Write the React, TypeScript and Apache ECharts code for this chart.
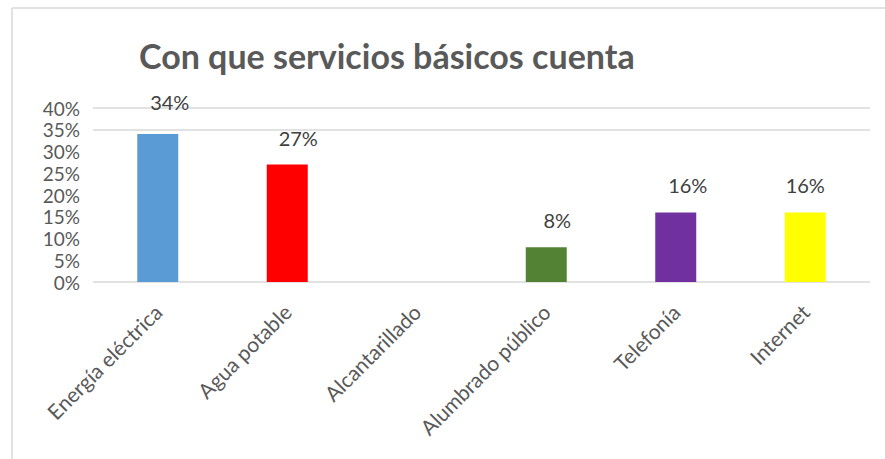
import React, { useEffect, useRef } from "react";
import * as echarts from "echarts";

const title = "Con que servicios básicos cuenta";
const categories = ["Energía eléctrica", "Agua potable", "Alcantarillado", "Alumbrado público", "Telefonía", "Internet"];
const values = [34, 27, 0, 8, 16, 16];
const barColors = ["#5b9bd5", "#ff0000", "#a5a5a5", "#548235", "#7030a0", "#ffff00"];
const yTicks = [0, 5, 10, 15, 20, 25, 30, 35, 40];
const labelShift = [12, 11, 0, 11, 12, 0];
const labelLift = [22, 17, 0, 17, 17, 17];

const FONT = "Lato, 'Open Sans', sans-serif";

export default function App() {
  const ref = useRef<HTMLDivElement>(null);
  useEffect(() => {
    if (!ref.current) return;
    const chart = echarts.init(ref.current, null, { renderer: "svg" });
    const gridColors = yTicks.map((t) => (t === 0 || t === 35 || t === 40 ? "#d9d9d9" : "rgba(0,0,0,0)"));
    chart.setOption({
      animation: false,
      backgroundColor: "#ffffff",
      graphic: [
        {
          type: "line",
          shape: { x1: 12, y1: 8, x2: 885, y2: 8 },
          style: { stroke: "#d9d9d9", lineWidth: 1.5 },
          silent: true,
        },
        {
          type: "line",
          shape: { x1: 12, y1: 8, x2: 12, y2: 459 },
          style: { stroke: "#d9d9d9", lineWidth: 1.5 },
          silent: true,
        },
      ],
      title: {
        text: title,
        left: 134,
        top: 33,
        textStyle: { fontFamily: FONT, fontSize: 34, fontWeight: "bold", color: "#595959" },
      },
      grid: { left: 93, right: 15, top: 108, bottom: 177, containLabel: false },
      xAxis: {
        type: "category",
        data: categories,
        axisLine: { show: false },
        axisTick: { show: false },
        axisLabel: {
          rotate: 45,
          interval: 0,
          margin: 26,
          fontFamily: FONT,
          fontSize: 21,
          color: "#595959",
        },
      },
      yAxis: {
        type: "value",
        min: 0,
        max: 40,
        interval: 5,
        axisLine: { show: false },
        axisTick: { show: false },
        axisLabel: {
          formatter: (v: number) => `${v}%`,
          fontFamily: FONT,
          fontSize: 19,
          color: "#595959",
          margin: 13,
        },
        splitLine: { show: true, lineStyle: { color: gridColors, width: 1.5 } },
      },
      series: [
        {
          type: "bar",
          barWidth: 41,
          data: values.map((v, i) => ({
            value: v,
            itemStyle: { color: barColors[i] },
            label: { show: v > 0, offset: [labelShift[i], 0], distance: labelLift[i] },
          })),
          label: {
            show: true,
            position: "top",
            distance: 17,
            formatter: (p: any) => `${p.value}%`,
            fontFamily: FONT,
            fontSize: 20,
            color: "#404040",
          },
        },
      ],
    });
    return () => chart.dispose();
  }, []);
  return (
    <div
      ref={ref}
      style={{ position: "fixed", left: 0, top: 0, width: 885, height: 459 }}
    />
  );
}
